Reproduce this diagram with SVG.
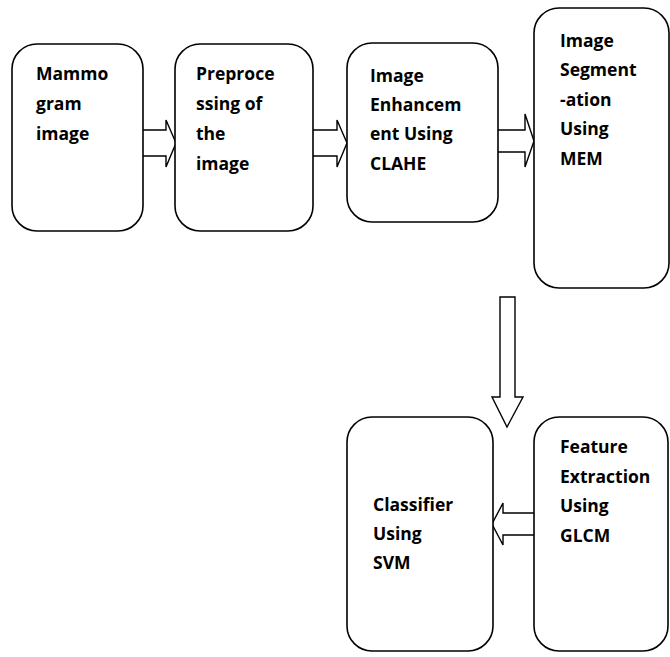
<svg xmlns="http://www.w3.org/2000/svg" width="670" height="657" viewBox="0 0 670 657">
  <style>
    .box { fill: #ffffff; stroke: #000000; stroke-width: 1.6; }
    .arrow { fill: #ffffff; stroke: #000000; stroke-width: 1.4; stroke-linejoin: miter; }
    .label { font-family: "Open Sans", "Liberation Sans", sans-serif; font-weight: bold; font-size: 17.5px; fill: #000000; }
  </style>
  <rect width="670" height="657" fill="#ffffff"/>

  <g id="connectors">
    <!-- block arrows between stages -->
    <path class="arrow" d="M143,130 H166 V120 L176,143 L166,167 V156 H143"/>
    <path class="arrow" d="M313,130 H337 V120 L347,143 L337,167 V156 H313"/>
    <path class="arrow" d="M498,130 H525 V114 L534,141 L525,167 V152 H498"/>
    <path class="arrow" d="M500,297 H515 V397 H523 L507,427 L492,397 H500 Z"/>
    <path class="arrow" d="M534,513 H503 V503 L492,524 L503,545 V535 H534"/>
  </g>

  <g id="mammogram">
    <rect class="box" x="12" y="44" width="131" height="187" rx="25"/>
    <text class="label" x="36" y="80">Mammo</text>
    <text class="label" x="36" y="110">gram</text>
    <text class="label" x="36" y="140">image</text>
  </g>

  <g id="preprocessing">
    <rect class="box" x="175" y="44" width="138" height="187" rx="25"/>
    <text class="label" x="196" y="80">Preproce</text>
    <text class="label" x="196" y="110">ssing of</text>
    <text class="label" x="196" y="140">the</text>
    <text class="label" x="196" y="170">image</text>
  </g>

  <g id="enhancement">
    <rect class="box" x="347" y="43" width="151" height="179" rx="25"/>
    <text class="label" x="370" y="82">Image</text>
    <text class="label" x="370" y="111">Enhancem</text>
    <text class="label" x="370" y="140">ent Using</text>
    <text class="label" x="370" y="170">CLAHE</text>
  </g>

  <g id="segmentation">
    <rect class="box" x="534" y="8" width="135" height="280" rx="25"/>
    <text class="label" x="560" y="47">Image</text>
    <text class="label" x="560" y="76">Segment</text>
    <text class="label" x="560" y="106">-ation</text>
    <text class="label" x="560" y="135">Using</text>
    <text class="label" x="560" y="165">MEM</text>
  </g>

  <g id="classifier">
    <rect class="box" x="347" y="417" width="146" height="234" rx="25"/>
    <text class="label" x="373" y="511">Classifier</text>
    <text class="label" x="373" y="540">Using</text>
    <text class="label" x="373" y="569">SVM</text>
  </g>

  <g id="feature-extraction">
    <rect class="box" x="534" y="417" width="134" height="234" rx="25"/>
    <text class="label" x="560" y="453">Feature</text>
    <text class="label" x="560" y="483">Extraction</text>
    <text class="label" x="560" y="512">Using</text>
    <text class="label" x="560" y="542">GLCM</text>
  </g>
</svg>
